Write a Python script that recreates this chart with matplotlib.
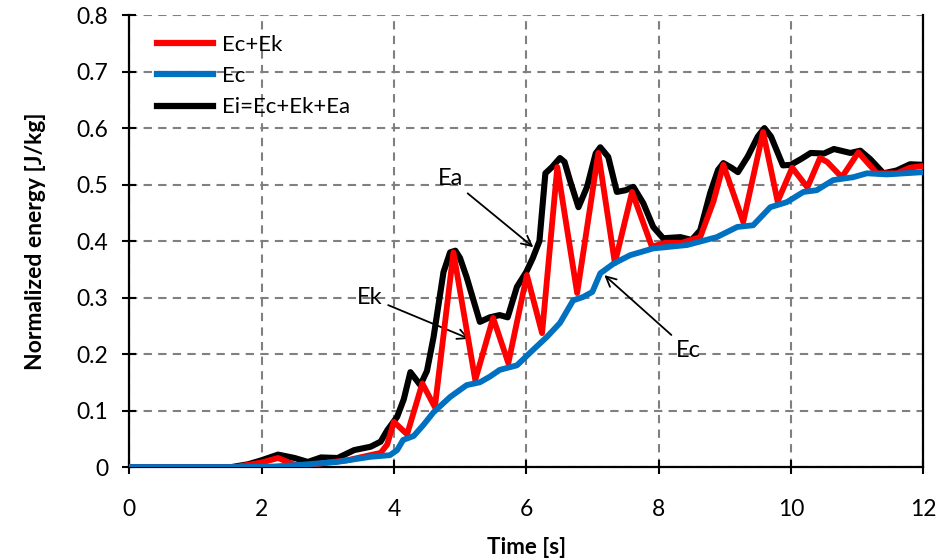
import matplotlib
matplotlib.use("Agg")
import matplotlib.pyplot as plt
from matplotlib.lines import Line2D

plt.rcParams['font.family'] = ['Lato', 'DejaVu Sans']

# Ei = Ec+Ek+Ea (black envelope)
t_ei = [0, 1.55, 1.8, 2.0, 2.25, 2.5, 2.7, 2.9, 3.15, 3.4, 3.65, 3.8, 3.9, 4.05,
        4.15, 4.25, 4.4, 4.5, 4.6, 4.75, 4.85, 4.93, 5.0, 5.1, 5.3, 5.45, 5.6,
        5.72, 5.86, 6.0, 6.1, 6.2, 6.29, 6.39, 6.51, 6.58, 6.66, 6.79, 6.92, 7.05,
        7.12, 7.24, 7.37, 7.5, 7.62, 7.77, 7.92, 8.07, 8.33, 8.5, 8.63, 8.78, 8.9,
        8.98, 9.1, 9.2, 9.35, 9.5, 9.6, 9.7, 9.88, 10.0, 10.15, 10.3, 10.5, 10.65,
        10.9, 11.05, 11.2, 11.4, 11.6, 11.8, 12.0]
ei = [0, 0, 0.005, 0.012, 0.022, 0.016, 0.009, 0.017, 0.016, 0.03, 0.036, 0.045,
      0.065, 0.089, 0.12, 0.168, 0.145, 0.17, 0.23, 0.345, 0.38, 0.383, 0.37,
      0.336, 0.257, 0.265, 0.269, 0.265, 0.319, 0.345, 0.37, 0.40, 0.52, 0.531,
      0.547, 0.54, 0.508, 0.46, 0.496, 0.555, 0.566, 0.549, 0.487, 0.49, 0.496,
      0.467, 0.425, 0.405, 0.407, 0.402, 0.419, 0.485, 0.526, 0.538, 0.53, 0.522,
      0.55, 0.585, 0.60, 0.585, 0.534, 0.535, 0.545, 0.556, 0.555, 0.563, 0.556,
      0.56, 0.545, 0.52, 0.525, 0.536, 0.535]

# Ec+Ek (red)
t_eck = [0, 1.6, 2.0, 2.25, 2.5, 2.7, 3.0, 3.3, 3.6, 3.8, 3.9, 4.0, 4.2, 4.43,
         4.62, 4.9, 5.23, 5.5, 5.73, 6.01, 6.24, 6.47, 6.77, 7.09, 7.34, 7.6,
         7.9, 8.1, 8.35, 8.63, 8.83, 8.98, 9.28, 9.58, 9.8, 10.02, 10.25, 10.44,
         10.55, 10.77, 11.02, 11.3, 11.6, 11.8, 12.0]
eck = [0, 0, 0.008, 0.016, 0.004, 0.003, 0.008, 0.012, 0.02, 0.025, 0.04, 0.08,
       0.058, 0.148, 0.106, 0.38, 0.154, 0.264, 0.184, 0.34, 0.237, 0.531, 0.308,
       0.556, 0.361, 0.487, 0.39, 0.397, 0.397, 0.407, 0.47, 0.535, 0.434, 0.593,
       0.47, 0.53, 0.495, 0.547, 0.54, 0.513, 0.557, 0.52, 0.52, 0.53, 0.533]

# Ec (blue)
t_ec = [0, 1.7, 2.2, 2.6, 3.14, 3.64, 3.94, 4.05, 4.14, 4.3, 4.45, 4.6, 4.85, 5.1,
        5.3, 5.45, 5.6, 5.86, 6.1, 6.31, 6.51, 6.71, 6.86, 7.0, 7.12, 7.32, 7.57,
        7.92, 8.43, 8.88, 9.19, 9.43, 9.69, 9.94, 10.19, 10.39, 10.64, 10.94,
        11.15, 11.45, 12.0]
ec = [0, 0, 0.001, 0.004, 0.009, 0.018, 0.021, 0.03, 0.048, 0.055, 0.075, 0.097,
      0.124, 0.145, 0.15, 0.16, 0.172, 0.18, 0.207, 0.23, 0.255, 0.295, 0.301,
      0.31, 0.343, 0.36, 0.375, 0.387, 0.393, 0.407, 0.425, 0.428, 0.46, 0.469,
      0.487, 0.49, 0.508, 0.513, 0.52, 0.518, 0.522]

fig = plt.figure(figsize=(9.43, 5.6), dpi=100)
ax = fig.add_axes([0.137, 0.166, 0.842, 0.807])

ax.plot(t_ei, ei, color='black', lw=4.4, zorder=3, solid_joinstyle='round')
ax.plot(t_eck, eck, color='#ff0000', lw=4.2, zorder=4, solid_joinstyle='round')
ax.plot(t_ec, ec, color='#0070c0', lw=4.2, zorder=5, solid_joinstyle='round')

ax.set_xlim(0, 12)
ax.set_ylim(0, 0.8)
ax.set_xticks(range(0, 13, 2))
ax.set_yticks([0, 0.1, 0.2, 0.3, 0.4, 0.5, 0.6, 0.7, 0.8])
ax.set_yticklabels(['0', '0.1', '0.2', '0.3', '0.4', '0.5', '0.6', '0.7', '0.8'])
ax.grid(True, color='#808080', ls=(0, (4, 3)), lw=1.5)
ax.tick_params(labelsize=16.5, width=1.5, length=10, direction='inout')
ax.tick_params(axis='y', pad=10)
ax.tick_params(axis='x', pad=18)

for s in ['left', 'bottom', 'right']:
    ax.spines[s].set_linewidth(1.6)
ax.spines['top'].set_visible(False)

ax.set_xlabel('Time [s]', fontsize=16, fontweight='bold', labelpad=12)
ax.set_ylabel('Normalized energy [J/kg]', fontsize=16.5, fontweight='bold',
              labelpad=22)

# legend entries in the reference order
handles = [Line2D([], [], color='#ff0000', lw=4.5),
           Line2D([], [], color='#0070c0', lw=4.5),
           Line2D([], [], color='black', lw=4.5)]
ax.legend(handles, ['Ec+Ek', 'Ec', 'Ei=Ec+Ek+Ea'], loc='upper left',
          frameon=False, fontsize=16, handlelength=2.5, handletextpad=0.4,
          labelspacing=0.5, bbox_to_anchor=(0.01, 1.0))

arrow = dict(arrowstyle='->', color='black', lw=1.3, mutation_scale=18)
ax.annotate('Ea', xy=(6.14, 0.386), xytext=(4.85, 0.51), fontsize=17,
            ha='center', va='center', arrowprops=arrow)
ax.annotate('Ek', xy=(5.18, 0.225), xytext=(3.64, 0.30), fontsize=17,
            ha='center', va='center', arrowprops=arrow)
ax.annotate('Ec', xy=(7.15, 0.343), xytext=(8.45, 0.207), fontsize=17,
            ha='center', va='center', arrowprops=arrow)

fig.savefig('out.png', dpi=100)
